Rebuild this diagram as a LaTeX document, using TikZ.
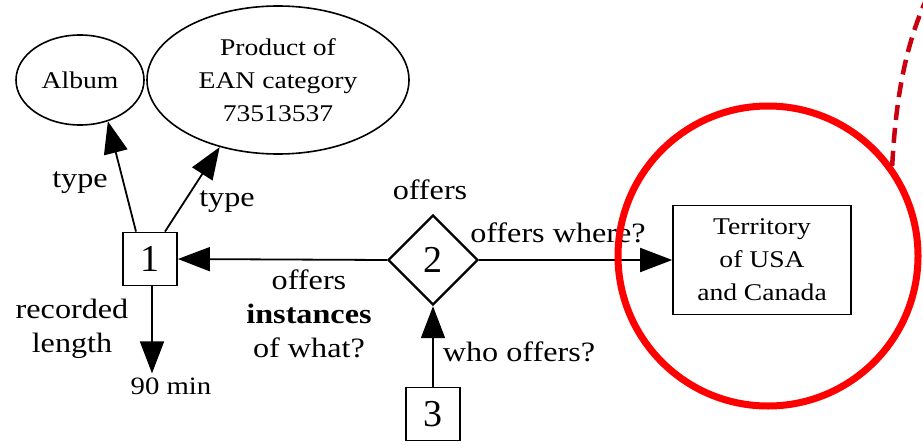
\documentclass[tikz,border=0pt]{standalone}
\usepackage{fontspec}
\setmainfont{Liberation Serif}
\newfontfamily\widefont{Liberation Serif}[FakeStretch=1.15]
\usetikzlibrary{shapes.geometric,arrows.meta}
\definecolor{darkred}{RGB}{200,0,16}
\begin{document}
\begin{tikzpicture}[x=1pt,y=-1pt,
  concept/.style={ellipse,draw,line width=1.6pt,inner sep=0pt,align=center,
    font=\widefont\fontsize{24}{33}\selectfont},
  instbox/.style={rectangle,draw,line width=1.8pt,minimum width=54pt,minimum height=53pt,
    inner sep=0pt,font=\fontsize{38}{40}\selectfont},
  relnode/.style={diamond,draw,line width=2.4pt,minimum width=90pt,minimum height=90pt,
    inner sep=0pt,font=\fontsize{38}{40}\selectfont},
  valbox/.style={rectangle,draw,line width=1.6pt,minimum width=178pt,minimum height=109pt,
    inner sep=0pt,align=center,font=\widefont\fontsize{24}{33}\selectfont},
  lbl/.style={inner sep=0pt,align=center,font=\widefont\fontsize{28}{34}\selectfont},
  arr/.style={line width=1.8pt,-{Triangle[length=32pt,width=24pt]}}]
\useasboundingbox (0,0) rectangle (923,447);

% nodes
\node[concept,minimum width=128pt,minimum height=90pt] (album) at (80,80) {Album};
\node[concept,minimum width=262pt,minimum height=148pt] (product) at (278,80)
  {Product of\\EAN category\\73513537};
\node[instbox] (n1) at (150,259) {1};
\node[relnode] (n2) at (433,260) {2};
\node[instbox] (n3) at (433,414) {3};
\node[valbox] (terr) at (762,260) {Territory\\of USA\\and Canada};
\node[lbl,font=\widefont\fontsize{25}{30}\selectfont] (len) at (171,386) {90 min};
\coordinate (n1s) at ([xshift=2pt]n1.south);
\coordinate (lenTop) at ([yshift=4pt]len.north -| n1s);

% connectors
\draw[arr] ([xshift=-14pt]n1.north) -- (album.-56);
\draw[arr] ([xshift=15pt]n1.north) -- (product.-131);
\draw[arr] (n2.west) -- (n1.east);
\draw[arr] (n1s) -- (lenTop);
\draw[arr] (n3.north) -- (n2.south);
\draw[arr] (n2.east) -- (terr.west);

% edge labels
\node[lbl] at (80,183) {type};
\node[lbl] at (227,202) {type};
\node[lbl] at (430,190) {offers};
\node[lbl] at (558,233) {offers where?};
\node[lbl] at (309,314) {offers\\\textbf{instances}\\of what?};
\node[lbl] at (72,329) {recorded\\length};
\node[lbl] at (519,352) {who offers?};

% highlight
\node[circle,draw=red,line width=7pt,minimum size=300pt,inner sep=0pt] (hl) at (768,256) {};
\draw[darkred,line width=4.5pt,dash pattern=on 15pt off 8pt]
  (hl.36) .. controls (896,95) and (906,45) .. (926,0);
\end{tikzpicture}
\end{document}
